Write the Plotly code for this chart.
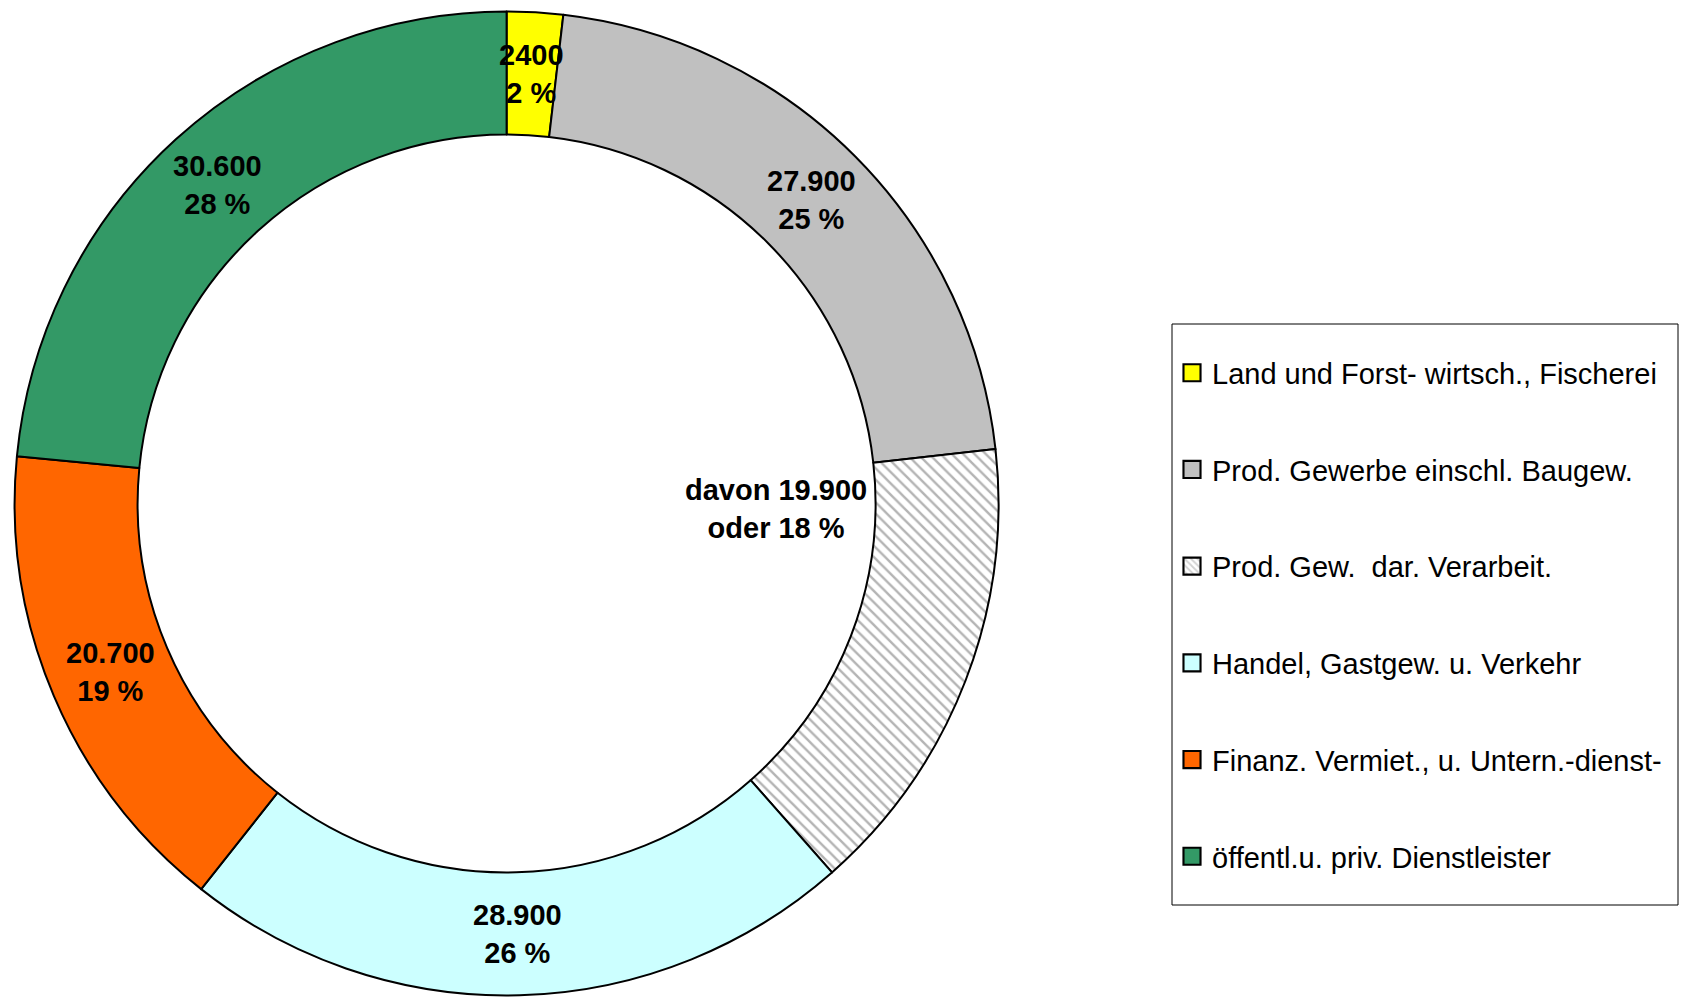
import math
import plotly.graph_objects as go

categories = [
    "Land und Forst- wirtsch., Fischerei",
    "Prod. Gewerbe einschl. Baugew.",
    "Prod. Gew.  dar. Verarbeit.",
    "Handel, Gastgew. u. Verkehr",
    "Finanz. Vermiet., u. Untern.-dienst-",
    "öffentl.u. priv. Dienstleister",
]
values = [2400, 27900, 19900, 28900, 20700, 30600]
value_labels = ["2400", "27.900", "davon 19.900", "28.900", "20.700", "30.600"]
subset_index = 2  # "davon" share of Prod. Gewerbe, drawn as its own hatched slice
colors = ["#FFFF00", "#C0C0C0", "#FFFFFF", "#CCFFFF", "#FF6600", "#339966"]
patterns = ["", "", "\\", "", "", ""]

W, H = 1683, 997
FONT = "Liberation Sans, Arial, sans-serif"
HOLE = 0.75
dom_x = [0.0087, 0.5933]
dom_y = [0.0015, 0.9885]

total_all = sum(values)
total_pct = total_all - values[subset_index]
pcts = [round(v / total_pct * 100) for v in values]

fig = go.Figure()
fig.add_trace(go.Pie(
    values=values,
    labels=categories,
    sort=False,
    direction="clockwise",
    rotation=0,
    hole=HOLE,
    domain=dict(x=dom_x, y=dom_y),
    marker=dict(
        colors=colors,
        line=dict(color="black", width=2),
        pattern=dict(shape=patterns, fgcolor="#B4B4B4", bgcolor="#FFFFFF",
                     size=8, solidity=0.3),
    ),
    textinfo="none",
    hoverinfo="label+value",
    showlegend=False,
))

# legend entries (proxies so that entries can be spaced like the original)
for i, name in enumerate(categories):
    fig.add_trace(go.Bar(
        x=[None], y=[None], name=name, legendgroup=f"g{i}",
        marker=dict(color=colors[i], line=dict(color="black", width=1.5),
                    pattern=dict(shape=patterns[i], fgcolor="#A6A6A6",
                                 bgcolor=colors[i], size=4, solidity=0.4)),
        hoverinfo="skip", showlegend=True,
    ))

# slice labels placed at mid-ring from cumulative data angles
R = min((dom_x[1] - dom_x[0]) * W, (dom_y[1] - dom_y[0]) * H) / 2
cx = (dom_x[0] + dom_x[1]) / 2
cy = (dom_y[0] + dom_y[1]) / 2
rmid = R * (1 + HOLE) / 2
cum = 0
annotations = []
for i, v in enumerate(values):
    mid = (cum + v / 2) / total_all * 2 * math.pi
    cum += v
    if i == subset_index:
        # the "davon" label sits inside the hole, to the right of the centre
        px, py = 269, -6
        text = f"<b>{value_labels[i]}<br>oder {pcts[i]} %</b>"
    else:
        px, py = rmid * math.sin(mid), rmid * math.cos(mid)
        text = f"<b>{value_labels[i]}<br>{pcts[i]} %</b>"
    annotations.append(dict(
        x=cx + px / W, y=cy + py / H,
        xref="paper", yref="paper", text=text, showarrow=False,
        font=dict(family=FONT, size=29, color="black"),
        xanchor="center", yanchor="middle", align="center",
    ))

# legend frame
leg_x0, leg_x1 = 1172 / W, 1678 / W
leg_y1, leg_y0 = 1 - 324 / H, 1 - 905 / H

fig.update_layout(
    width=W, height=H,
    margin=dict(l=0, r=0, t=0, b=0),
    paper_bgcolor="white", plot_bgcolor="white",
    xaxis=dict(visible=False), yaxis=dict(visible=False),
    annotations=annotations,
    shapes=[dict(type="rect", xref="paper", yref="paper",
                 x0=leg_x0, x1=leg_x1, y0=leg_y0, y1=leg_y1,
                 line=dict(color="black", width=1), fillcolor="white",
                 layer="below")],
    legend=dict(
        x=leg_x0, y=leg_y1, xanchor="left", yanchor="top",
        bgcolor="rgba(0,0,0,0)", borderwidth=0,
        font=dict(family=FONT, size=29, color="black"),
        tracegroupgap=56, traceorder="grouped",
        title=dict(text=" ", font=dict(size=18)),
    ),
)

post = """
document.body.style.margin='0';
document.querySelectorAll('.legend .legendpoints path').forEach(function(p){
  var t = p.getAttribute('transform') || '';
  p.setAttribute('transform', t + ' scale(1.42)');
});
"""
fig.write_html("out.html", config={"displayModeBar": False}, post_script=post)
